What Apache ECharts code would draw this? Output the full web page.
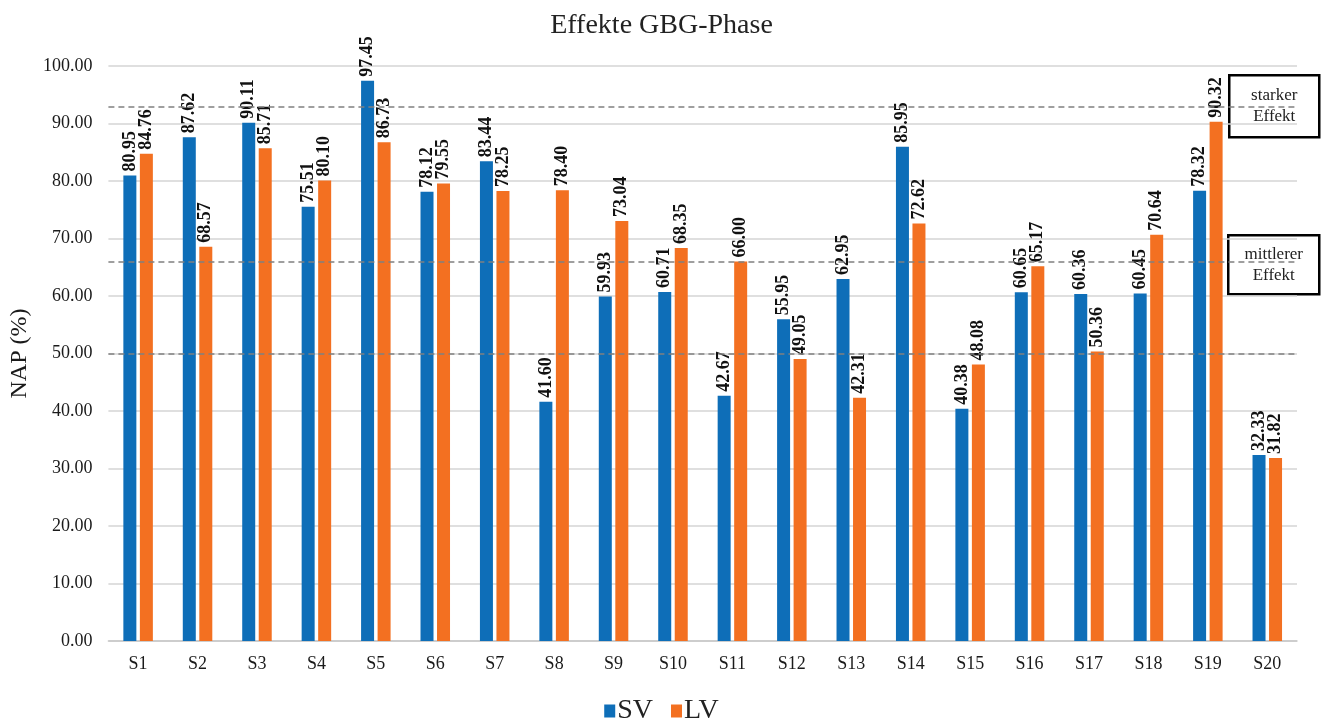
<!DOCTYPE html>
<html>
<head>
<meta charset="utf-8">
<script src="https://cdn.jsdelivr.net/npm/echarts@6/dist/echarts.min.js"></script>
<style>html,body{margin:0;padding:0;background:#fff;}#c{width:1323px;height:719px;}</style>
</head>
<body>
<div id="c"></div>
<script>
const categories = ['S1','S2','S3','S4','S5','S6','S7','S8','S9','S10','S11','S12','S13','S14','S15','S16','S17','S18','S19','S20'];
const svValues = [80.95,87.62,90.11,75.51,97.45,78.12,83.44,41.60,59.93,60.71,42.67,55.95,62.95,85.95,40.38,60.65,60.36,60.45,78.32,32.33];
const lvValues = [84.76,68.57,85.71,80.10,86.73,79.55,78.25,78.40,73.04,68.35,66.00,49.05,42.31,72.62,48.08,65.17,50.36,70.64,90.32,31.82];
const thresholds = [93, 66, 50];
const yTicks = {min: 0, max: 100, interval: 10};
const FONT = '"Liberation Serif", "Times New Roman", serif';

const chart = echarts.init(document.getElementById('c'), null, {renderer: 'canvas'});
const labelCfg = {
  show: true, position: 'top', rotate: 90, align: 'left', verticalAlign: 'middle',
  distance: 4, fontFamily: FONT, fontWeight: 'bold', fontSize: 18, color: '#111',
  formatter: p => p.value.toFixed(2)
};
function box(x, y, w, h, lines) {
  return {
    type: 'group', left: x, top: y, z: 100,
    children: [
      {type: 'rect', shape: {x: 0, y: 0, width: w, height: h}, style: {fill: '#fff', stroke: '#000', lineWidth: 2.5}},
      {type: 'text', x: w / 2, y: h / 2, style: {text: lines, fontFamily: FONT, fontSize: 17, fill: '#222', align: 'center', verticalAlign: 'middle', lineHeight: 21}}
    ]
  };
}
chart.setOption({
  animation: false,
  backgroundColor: '#fff',
  title: {text: 'Effekte GBG-Phase', left: 'center', top: 7, textStyle: {fontFamily: FONT, fontSize: 28, fontWeight: 'normal', color: '#222'}},
  grid: {left: 107, right: 26, top: 66, bottom: 78, containLabel: false},
  legend: {top: 692, left: 'center', icon: 'rect', itemWidth: 11, itemHeight: 13, itemGap: 18,
    textStyle: {fontFamily: FONT, fontSize: 28, color: '#222', padding: [0, 0, 0, -3]},
    data: ['SV', 'LV']},
  xAxis: {type: 'category', data: categories,
    axisLine: {lineStyle: {color: '#c8c8c8', width: 1.5}}, axisTick: {show: false},
    axisLabel: {fontFamily: FONT, fontSize: 18, color: '#1a1a1a', margin: 14}},
  yAxis: {type: 'value', min: yTicks.min, max: yTicks.max, interval: yTicks.interval,
    name: 'NAP (%)', nameLocation: 'middle', nameGap: 72, nameRotate: 90,
    nameTextStyle: {fontFamily: FONT, fontSize: 24, color: '#1a1a1a'},
    axisLine: {show: false}, axisTick: {show: false},
    axisLabel: {fontFamily: FONT, fontSize: 18, color: '#1a1a1a', margin: 16, formatter: v => v.toFixed(2)},
    splitLine: {lineStyle: {color: '#d4d4d4', width: 1.5}}},
  series: [
    {name: 'SV', type: 'bar', data: svValues, barWidth: 13, barGap: '27%', itemStyle: {color: '#0E6EB8'}, label: labelCfg,
      markLine: {silent: true, symbol: 'none', label: {show: false},
        lineStyle: {color: '#808080', type: [6, 4], width: 1.5},
        data: thresholds.map(t => ({yAxis: t}))}},
    {name: 'LV', type: 'bar', data: lvValues, barWidth: 13, itemStyle: {color: '#F37021'}, label: labelCfg}
  ],
  graphic: [
    box(1228, 74, 90, 62, 'starker\nEffekt'),
    box(1227, 234, 91, 59, 'mittlerer\nEffekt')
  ]
});
</script>
</body>
</html>
